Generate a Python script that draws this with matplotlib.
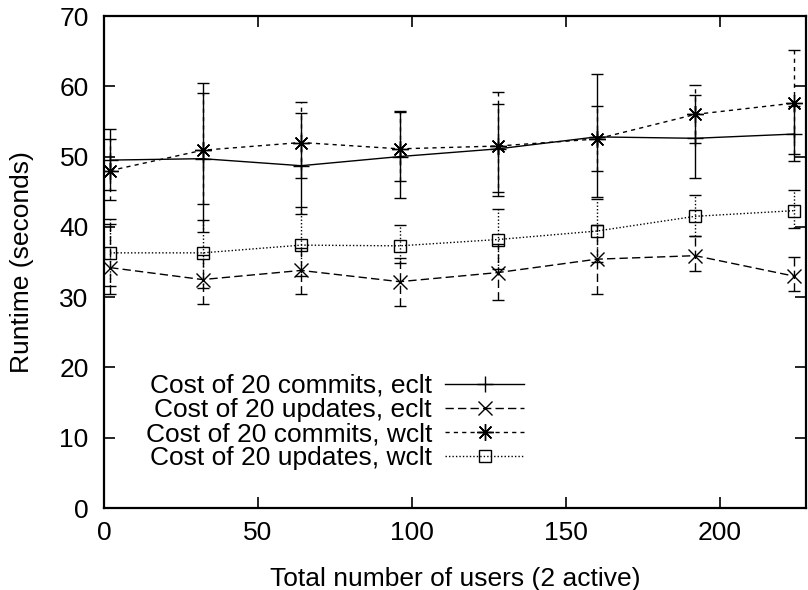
import matplotlib
matplotlib.use('Agg')
from matplotlib import pyplot as plt

plt.rcParams['font.family'] = ['Liberation Sans', 'DejaVu Sans']

users = [2, 32, 64, 96, 128, 160, 192, 224]

# mean runtime with low / high ends of the error bars (seconds)
commits_eclt = [49.5, 49.7, 48.7, 50.0, 51.1, 52.8, 52.6, 53.2]
commits_eclt_lo = [45.3, 39.2, 41.8, 44.1, 45.0, 44.2, 46.9, 49.3]
commits_eclt_hi = [53.9, 60.4, 56.2, 56.5, 57.5, 61.8, 58.7, 57.2]

updates_eclt = [34.2, 32.5, 33.8, 32.2, 33.5, 35.4, 35.9, 33.0]
updates_eclt_lo = [30.4, 29.0, 30.5, 28.7, 29.6, 30.5, 33.7, 30.9]
updates_eclt_hi = [40.4, 36.0, 37.0, 35.5, 37.5, 40.3, 38.7, 35.7]

commits_wclt = [48.0, 50.9, 52.0, 51.1, 51.5, 52.5, 56.0, 57.6]
commits_wclt_lo = [43.8, 43.2, 47.0, 46.5, 44.4, 48.0, 51.9, 50.4]
commits_wclt_hi = [52.5, 59.0, 57.8, 56.3, 59.2, 57.2, 60.2, 65.1]

updates_wclt = [36.3, 36.3, 37.4, 37.3, 38.2, 39.4, 41.5, 42.3]
updates_wclt_lo = [31.6, 31.3, 33.0, 34.9, 34.0, 35.0, 38.7, 39.9]
updates_wclt_hi = [41.1, 41.0, 42.8, 40.3, 42.5, 43.9, 44.6, 45.2]

labels = ['Cost of 20 commits, eclt', 'Cost of 20 updates, eclt',
          'Cost of 20 commits, wclt', 'Cost of 20 updates, wclt']

series = [
    (commits_eclt, commits_eclt_lo, commits_eclt_hi, '-', '+', 11),
    (updates_eclt, updates_eclt_lo, updates_eclt_hi, (0, (6, 3)), 'x', 10),
    (commits_wclt, commits_wclt_lo, commits_wclt_hi, (0, (3, 3)), (8, 2, 0), 12),
    (updates_wclt, updates_wclt_lo, updates_wclt_hi, (0, (1, 1.5)), 's', 9),
]

FS = 19

fig = plt.figure(figsize=(8.08, 5.90), dpi=100)
ax = fig.add_axes([104 / 808, 82 / 590, 702 / 808, 492 / 590])

handles = []
for (mean, lo, hi, ls, mk, ms), lab in zip(series, labels):
    yerr = [[m - l for m, l in zip(mean, lo)], [h - m for m, h in zip(mean, hi)]]
    cont = ax.errorbar(users, mean, yerr=yerr, color='black', linestyle=ls,
                       linewidth=1, marker=mk, markersize=ms, markerfacecolor='none',
                       markeredgecolor='black', markeredgewidth=1,
                       elinewidth=1, capsize=4, capthick=1, label=lab)
    for col in cont[2]:
        col.set_linestyle(ls)
    handles.append(cont[0])

ax.set_xlim(0, 228)
ax.set_ylim(0, 70)
ax.set_xticks([0, 50, 100, 150, 200])
ax.set_yticks(range(0, 71, 10))
ax.tick_params(direction='in', length=8, width=1.2, top=True, right=True,
               labelsize=FS)
ax.tick_params(axis='x', pad=9)
ax.tick_params(axis='y', pad=11)
for sp in ax.spines.values():
    sp.set_linewidth(1.6)

ax.set_xlabel('Total number of users (2 active)', fontsize=FS, labelpad=16)
ax.set_ylabel('Runtime (seconds)', fontsize=FS, labelpad=18)

leg = ax.legend(handles, labels, loc='lower right', bbox_to_anchor=(0.614, 0.055),
                frameon=False, markerfirst=False, fontsize=FS, handlelength=3.0,
                handletextpad=0.5, labelspacing=0.005, borderaxespad=0)
for col in leg._legend_handle_box.get_children():
    col.align = 'right'

fig.savefig('out.png', dpi=100)
